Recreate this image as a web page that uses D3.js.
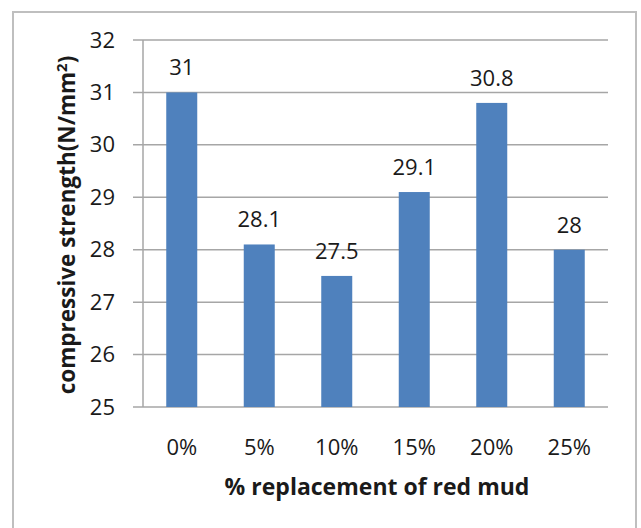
<!DOCTYPE html>
<html><head><meta charset="utf-8">
<script src="https://cdn.jsdelivr.net/npm/d3@7"></script>
<style>body{margin:0;background:#fff}svg{display:block}text{font-family:"Open Sans",sans-serif;fill:#1a1a1a}</style>
</head><body>
<script>
const categories = ["0%","5%","10%","15%","20%","25%"];
const values = [31, 28.1, 27.5, 29.1, 30.8, 28];
const valueLabels = ["31","28.1","27.5","29.1","30.8","28"];
const yTicks = [25,26,27,28,29,30,31,32];
const xTitle = "% replacement of red mud";

(function(){
const W = 641, H = 528;
const svg = d3.select("body").append("svg").attr("width", W).attr("height", H);
svg.append("rect").attr("x",13).attr("y",12).attr("width",623).attr("height",530)
  .attr("fill","#fff").attr("stroke","#bfbfbf").attr("stroke-width",2);

const pl = 143, pr = 608, pt = 40, pb = 407;
const x = d3.scaleBand().domain(categories).range([pl, pr]).paddingInner(0).paddingOuter(0);
const y = d3.scaleLinear().domain([25,32]).range([pb, pt]);

svg.append("g").selectAll("line").data(yTicks).join("line")
  .attr("x1", pl-10).attr("x2", pr).attr("y1", d=>y(d)).attr("y2", d=>y(d))
  .attr("stroke","#a6a6a6").attr("stroke-width",1.5);
svg.append("line").attr("x1",pl).attr("x2",pl).attr("y1",pt).attr("y2",pb)
  .attr("stroke","#a6a6a6").attr("stroke-width",1.5);

const yAxis = d3.axisLeft(y).tickValues(yTicks).tickFormat(d3.format("d")).tickSize(0).tickPadding(28);
const ga = svg.append("g").attr("transform",`translate(${pl},0)`).call(yAxis);
ga.select(".domain").remove();
ga.selectAll("text").style("font-size","22px").style("font-family","'Open Sans',sans-serif").attr("fill","#1a1a1a");

const xAxis = d3.axisBottom(x).tickSize(0).tickPadding(32);
const gx = svg.append("g").attr("transform",`translate(0,${pb})`).call(xAxis);
gx.select(".domain").remove();
gx.selectAll("text").style("font-size","22px").style("font-family","'Open Sans',sans-serif").attr("fill","#1a1a1a");

const bw = x.bandwidth()*0.4;
svg.append("g").selectAll("rect").data(values).join("rect")
  .attr("x",(d,i)=>x(categories[i])+x.bandwidth()/2-bw/2)
  .attr("width",bw)
  .attr("y",d=>y(d)).attr("height",d=>pb-y(d))
  .attr("fill","#4f81bd");

svg.append("g").selectAll("text").data(values).join("text")
  .attr("x",(d,i)=>x(categories[i])+x.bandwidth()/2)
  .attr("y",d=>y(d)-17)
  .attr("text-anchor","middle").style("font-size","22px")
  .text((d,i)=>valueLabels[i]);

svg.append("text").attr("x",377).attr("y",495).attr("text-anchor","middle")
  .style("font-size","23px").style("font-weight","bold").text(xTitle);

const yt = svg.append("text").attr("transform","translate(75,225) rotate(-90)").attr("text-anchor","middle")
  .style("font-size","22.5px").style("font-weight","bold");
yt.append("tspan").text("compressive strength(N/mm");
yt.append("tspan").attr("dy",-8).style("font-size","15px").text("2");
yt.append("tspan").attr("dy",8).text(")");
})();
</script>
</body></html>
